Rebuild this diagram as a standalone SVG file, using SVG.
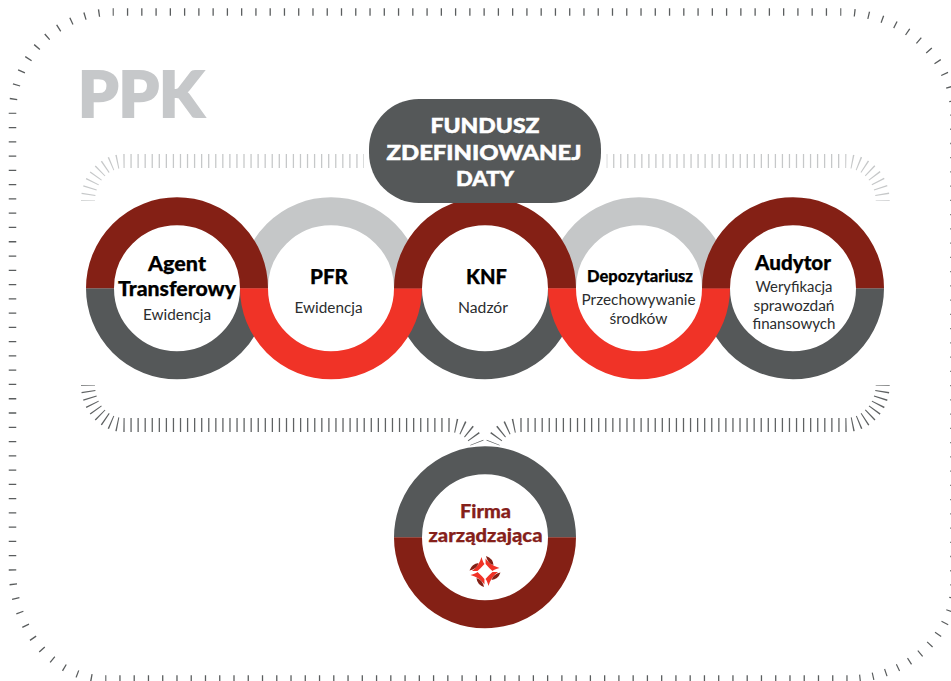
<svg xmlns="http://www.w3.org/2000/svg" width="951" height="681" viewBox="0 0 951 681">
<style>
text{font-family:"Lato","Liberation Sans",sans-serif;text-anchor:middle}
.o{fill:none;stroke:#5a5d5e;stroke-width:7.5;stroke-dasharray:.09 .91;stroke-dashoffset:.045}
.il,.id{fill:none;stroke-width:14;stroke-dasharray:.18 .82;stroke-dashoffset:.09}
.il{stroke:#c6c8c9}
.id{stroke:#5f6263}
.r{fill:none;stroke-width:28}
.m{stroke:#842015}.g{stroke:#555859}.e{stroke:#f03327}.l{stroke:#c5c7c8}
.h{font-weight:900;font-size:20px;fill:#000;stroke:#000;stroke-width:.25}
.s{font-weight:400;font-size:14.5px;fill:#2b2d2e}
.p{font-weight:900;font-size:21.5px;fill:#fff;stroke:#fff;stroke-width:.5}
.f{font-weight:900;font-size:18.5px;fill:#85201a;stroke:#85201a;stroke-width:.25}
</style>
<defs>
<g id="petal">
<path d="M-3.5-14.5Q-2-9-.5-7.5Q-4-3.5-7.5-.6L-13-.5Q-6-5.5-3.5-14.5Z" fill="#f03327"/>
<path d="M-15.500-1Q-13-8-6.500-8.500Q-8-2.500-15.500-1Z" fill="#842015"/>
</g>
</defs>
<g id="connectors">
<path class="o" pathLength="51" d="M113.3 12H840.7"/>
<path class="o" pathLength="12" d="M840.7 12A113.3 103 0 0 1 954 115"/>
<path class="o" pathLength="33" d="M954 115V585"/>
<path class="o" pathLength="12" d="M954 585A107 94 0 0 1 847 679"/>
<path class="o" pathLength="52" d="M847 679H105.7"/>
<path class="o" pathLength="11" d="M105.7 679A93.2 109 0 0 1 12.5 570"/>
<path class="o" pathLength="32" d="M12.5 570V113.3"/>
<path class="o" pathLength="11" d="M12.5 113.3A100.8 101.3 0 0 1 113.3 12"/>
<path class="il" pathLength="9" d="M88 201A36 40 0 0 1 124 161"/>
<path class="il" pathLength="34" d="M124 161H364"/>
<path class="il" pathLength="34" d="M845.7 161H606.7"/>
<path class="il" pathLength="9" d="M845.7 161A37 40 0 0 1 882.7 201"/>
<path class="id" pathLength="9" d="M88 385A36 40 0 0 0 124 425"/>
<path class="id" pathLength="46" d="M124 425H449"/>
<path class="id" pathLength="5" d="M449 425C462 425 473 432 477 443"/>
<path class="id" pathLength="5" d="M521 425C508 425 497 432 493 443"/>
<path class="id" pathLength="46" d="M521 425H846"/>
<path class="id" pathLength="9" d="M846 425A37 40 0 0 0 882.7 385"/>
</g>
<text id="title" x="141" y="117" style="font-weight:900;font-size:62px;fill:#c6c8ca;stroke:#c6c8ca;stroke-width:2" textLength="126" lengthAdjust="spacingAndGlyphs">PPK</text>
<g id="ring-backs">
<path class="r g" d="M100 288.300A77 77 0 0 0 254 288.300"/>
<path class="r l" d="M254 288.300A77 77 0 0 1 408 288.300"/>
<path class="r g" d="M408 288.300A77 77 0 0 0 562 288.300"/>
<path class="r l" d="M562 288.300A77 77 0 0 1 716 288.300"/>
<path class="r g" d="M716 288.300A77 77 0 0 0 870 288.300"/>
</g>
<g id="agent">
<path class="r m" d="M100 288.300A77 77 0 0 1 254 288.300"/>
<text class="h" x="177" y="271" textLength="58" lengthAdjust="spacingAndGlyphs">Agent</text>
<text class="h" x="177" y="295.500" textLength="118" lengthAdjust="spacingAndGlyphs">Transferowy</text>
<text class="s" x="177" y="320" textLength="68" lengthAdjust="spacingAndGlyphs">Ewidencja</text>
</g>
<g id="pfr">
<path class="r e" d="M254 288.300A77 77 0 0 0 408 288.300"/>
<text class="h" x="329" y="284" textLength="38" lengthAdjust="spacingAndGlyphs">PFR</text>
<text class="s" x="328.500" y="312.500" textLength="68" lengthAdjust="spacingAndGlyphs">Ewidencja</text>
</g>
<g id="knf">
<path class="r m" d="M408 288.300A77 77 0 0 1 562 288.300"/>
<text class="h" x="486.500" y="284" textLength="41" lengthAdjust="spacingAndGlyphs">KNF</text>
<text class="s" x="483" y="312.500" textLength="50" lengthAdjust="spacingAndGlyphs">Nadzór</text>
</g>
<g id="depozytariusz">
<path class="r e" d="M562 288.300A77 77 0 0 0 716 288.300"/>
<text class="h" x="640" y="281.500" style="font-size:17px" textLength="106" lengthAdjust="spacingAndGlyphs">Depozytariusz</text>
<text class="s" x="638.500" y="304.500" textLength="114" lengthAdjust="spacingAndGlyphs">Przechowywanie</text>
<text class="s" x="638.500" y="323.500" textLength="58" lengthAdjust="spacingAndGlyphs">środków</text>
</g>
<g id="audytor">
<path class="r m" d="M716 288.300A77 77 0 0 1 870 288.300"/>
<text class="h" x="793" y="270" textLength="76" lengthAdjust="spacingAndGlyphs">Audytor</text>
<text class="s" x="794" y="292" textLength="77" lengthAdjust="spacingAndGlyphs">Weryfikacja</text>
<text class="s" x="794" y="311" textLength="81" lengthAdjust="spacingAndGlyphs">sprawozdań</text>
<text class="s" x="794" y="329" textLength="83" lengthAdjust="spacingAndGlyphs">finansowych</text>
</g>
<g id="fundusz">
<rect x="369" y="99" width="232" height="104" rx="50" fill="#555859"/>
<text class="p" x="485" y="132.500" textLength="109" lengthAdjust="spacingAndGlyphs">FUNDUSZ</text>
<text class="p" x="484" y="159.500" textLength="195" lengthAdjust="spacingAndGlyphs">ZDEFINIOWANEJ</text>
<text class="p" x="485" y="185.500" textLength="58" lengthAdjust="spacingAndGlyphs">DATY</text>
</g>
<g id="firma">
<path class="r g" d="M408 537.300A77 77 0 0 1 562 537.300"/>
<path class="r m" d="M408 537.300A77 77 0 0 0 562 537.300"/>
<text class="f" x="485.500" y="517.500" textLength="51" lengthAdjust="spacingAndGlyphs">Firma</text>
<text class="f" x="485.500" y="542" textLength="114" lengthAdjust="spacingAndGlyphs">zarządzająca</text>
<g transform="translate(485 571.500)">
<use href="#petal"/>
<use href="#petal" transform="rotate(90)"/>
<use href="#petal" transform="rotate(180)"/>
<use href="#petal" transform="rotate(270)"/>
</g>
</g>
</svg>
